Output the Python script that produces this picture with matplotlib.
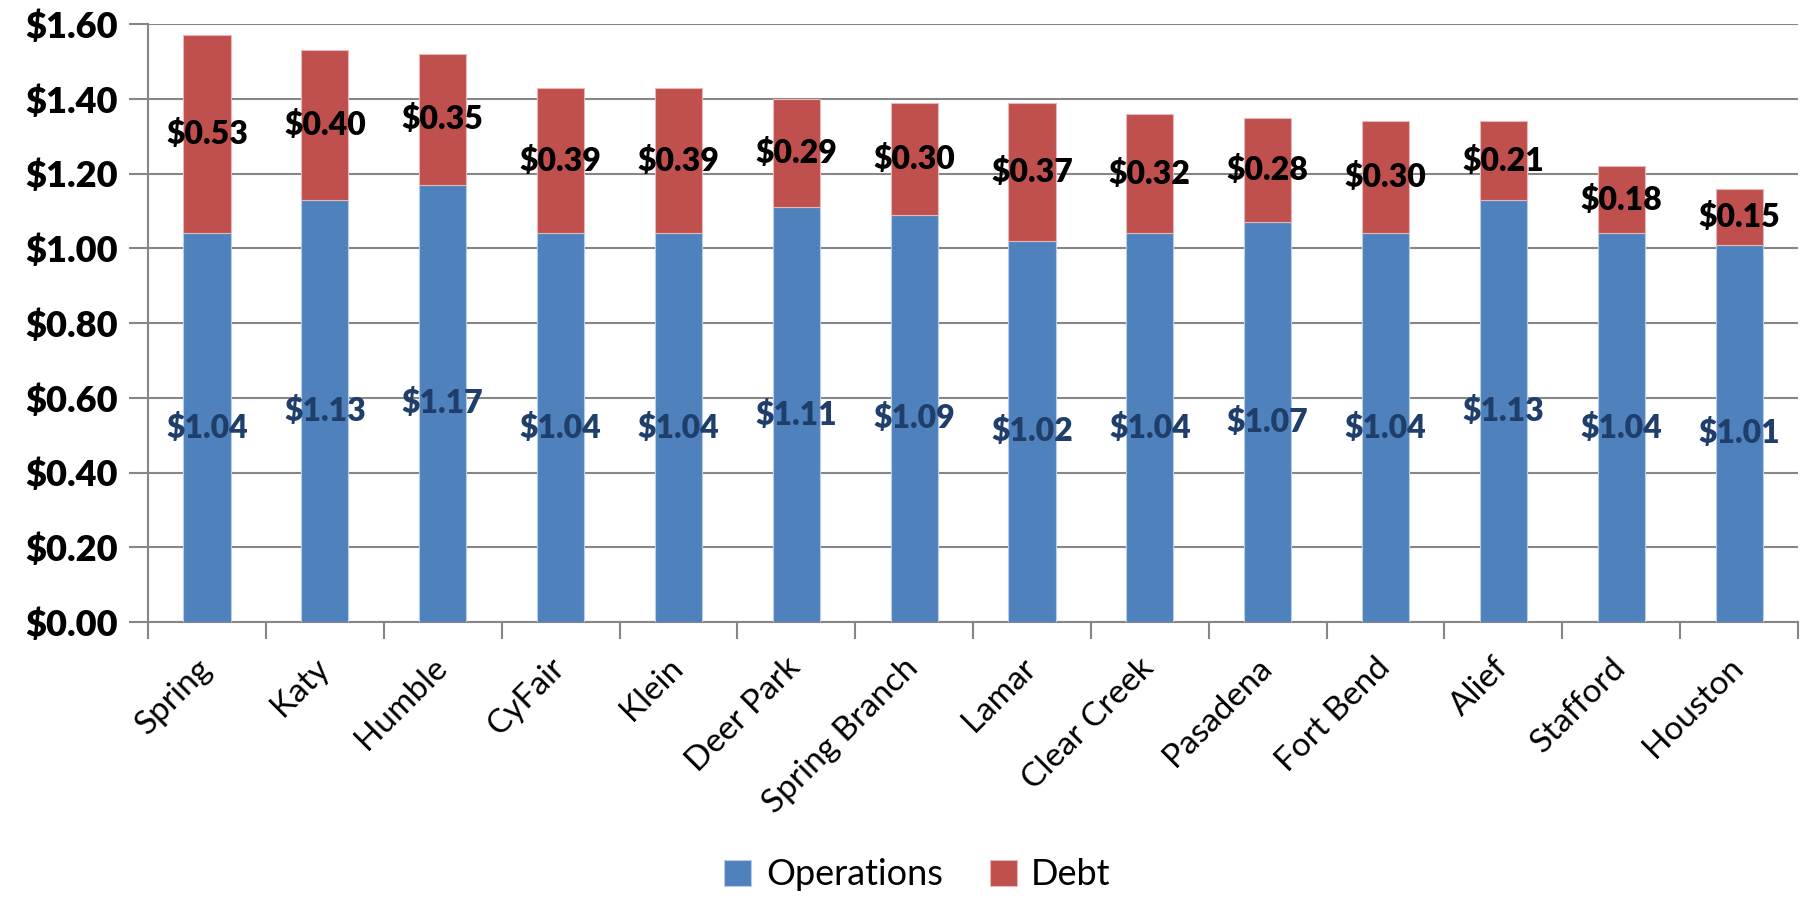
import matplotlib.pyplot as plt
import matplotlib.transforms as mtransforms
import numpy as np

plt.rcParams['font.family'] = ['Lato', 'DejaVu Sans']

districts = ['Spring', 'Katy', 'Humble', 'CyFair', 'Klein', 'Deer Park', 'Spring Branch',
             'Lamar', 'Clear Creek', 'Pasadena', 'Fort Bend', 'Alief', 'Stafford', 'Houston']
operations = [1.04, 1.13, 1.17, 1.04, 1.04, 1.11, 1.09, 1.02, 1.04, 1.07, 1.04, 1.13, 1.04, 1.01]
debt = [0.53, 0.40, 0.35, 0.39, 0.39, 0.29, 0.30, 0.37, 0.32, 0.28, 0.30, 0.21, 0.18, 0.15]
yticks = [0.0, 0.2, 0.4, 0.6, 0.8, 1.0, 1.2, 1.4, 1.6]

blue = '#4F81BD'
red = '#C0504D'
grid_col = '#868686'

fig = plt.figure(figsize=(18.06, 8.97), dpi=100)
ax = fig.add_axes([0.082, 0.3066, 0.9136, 0.6664])

x = np.arange(len(districts))
b1 = ax.bar(x, operations, width=0.4, color=blue, edgecolor='#B9CDE5', linewidth=0.8,
            label='Operations', zorder=3)
b2 = ax.bar(x, debt, width=0.4, bottom=operations, color=red, edgecolor='#E6B9B8',
            linewidth=0.8, label='Debt', zorder=3)

# value labels centred in each segment
for xi, o, d in zip(x, operations, debt):
    ax.text(xi, o / 2, '$%.2f' % o, ha='center', va='center', fontsize=23,
            fontweight='heavy', color='#1F3F6A', zorder=4)
    ax.text(xi, o + d / 2, '$%.2f' % d, ha='center', va='center', fontsize=23,
            fontweight='heavy', color='black', zorder=4)

ax.set_xlim(-0.5, len(districts) - 0.5)
ax.set_ylim(0, 1.6)
ax.set_yticks(yticks)
ax.set_yticklabels(['$%.2f' % v for v in yticks], fontsize=26, fontweight='heavy')
ax.yaxis.grid(True, color=grid_col, linewidth=1.5, zorder=0)

ax.set_xticks(x)
ax.set_xticklabels(districts, rotation=45, ha='right', rotation_mode='anchor', fontsize=24)
ax.tick_params(axis='x', length=0, pad=22)
shift = mtransforms.ScaledTranslation(-0.11, 0.0, fig.dpi_scale_trans)
for lbl in ax.get_xticklabels():
    lbl.set_transform(lbl.get_transform() + shift)
ax.set_xticks(np.arange(-0.5, len(districts), 1.0), minor=True)
ax.tick_params(axis='x', which='minor', length=12, width=1.5, color=grid_col, direction='out')
ax.tick_params(axis='y', length=14, width=1.5, color=grid_col, direction='out', pad=8)

for s in ['top', 'right']:
    ax.spines[s].set_visible(False)
for s in ['left', 'bottom']:
    ax.spines[s].set_color(grid_col)
    ax.spines[s].set_linewidth(1.5)

fig.legend(handles=[b1, b2], loc='lower center', bbox_to_anchor=(0.508, -0.03), ncol=2,
           frameon=False, fontsize=26, handlelength=0.75, handleheight=0.75,
           handletextpad=0.4, columnspacing=1.3)

fig.savefig('out.png', dpi=100)
